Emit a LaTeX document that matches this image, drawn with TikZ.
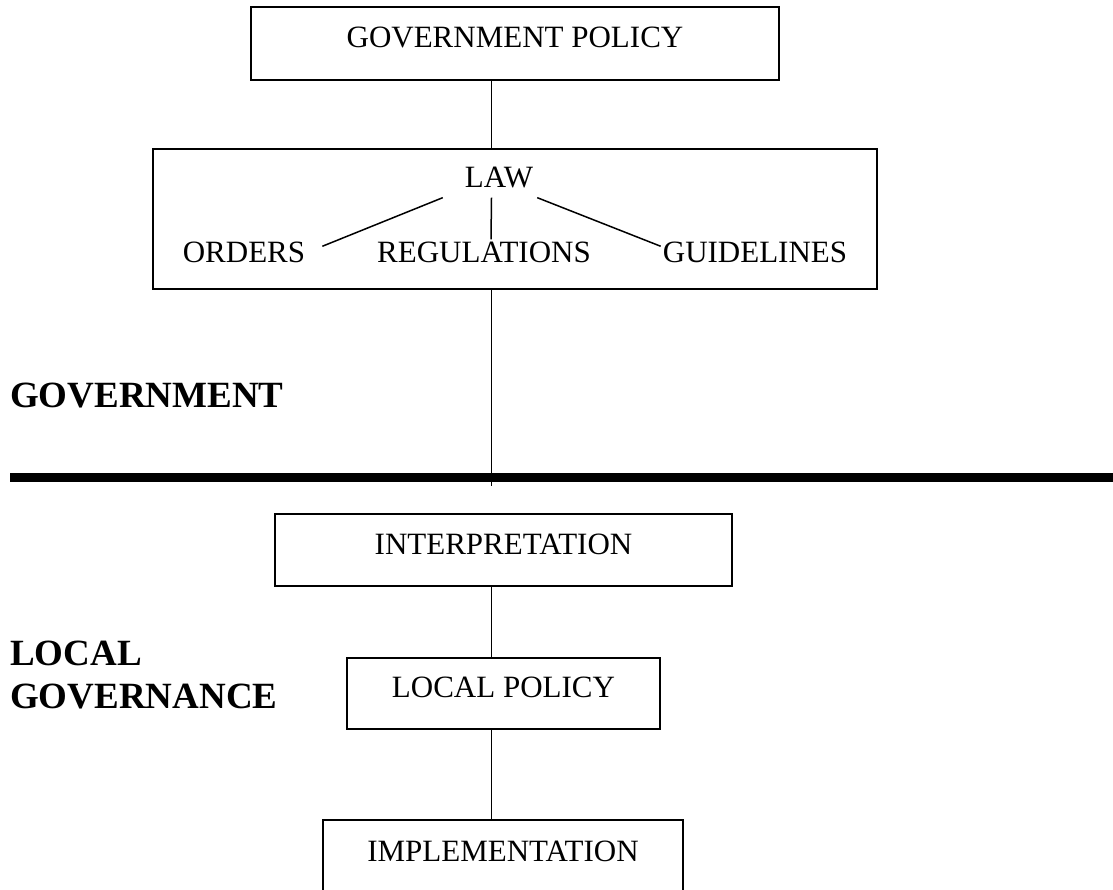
\documentclass[tikz,border=0pt]{standalone}
\usepackage{fontspec}
\setmainfont{Liberation Serif}
\tikzset{
	box/.style={draw, line width=1.8pt, inner sep=0pt, text depth=12pt, font=\fontsize{31}{37}\selectfont}, % the boxed steps
	word/.style={inner sep=0pt, anchor=base, font=\fontsize{31}{37}\selectfont}, % plain words inside the law box
	head/.style={inner sep=0pt, anchor=base west, font=\fontsize{37}{43}\selectfont\bfseries}, % the two side headings
	link/.style={line width=1.5pt}, % thin joining lines
	rule/.style={line width=9pt}, % the thick divide
}

\begin{document}
\begin{tikzpicture}[x=1pt,y=-1pt]
	\useasboundingbox (0,0) rectangle (1113,890);
	\coordinate (spine) at (491.5,0);
	\coordinate (cut) at (491.5,486);

	% government side
	\node[box, minimum width=528pt, minimum height=73pt] (gov) at (515,43.5) {GOVERNMENT POLICY};
	\node[box, minimum width=724pt, minimum height=140pt] (law) at (515,219) {};
	\node[word, inner sep=9pt] (lawtxt) at (499,188) {LAW};
	\node[word] (orders) at (244,263) {ORDERS};
	\node[word] (regul) at (484,263) {REGULATIONS};
	\node[word] (guide) at (755,263) {GUIDELINES};
	\node[head] (govt) at (10,407) {GOVERNMENT};

	\draw[rule] (10,477.5) -- (1113,477.5);

	% local side
	\node[box, minimum width=457pt, minimum height=72pt] (interp) at (503.5,550) {INTERPRETATION};
	\node[box, minimum width=313pt, minimum height=71pt] (local) at (503.5,693.5) {LOCAL POLICY};
	\node[box, minimum width=360pt, minimum height=74pt] (impl) at (503,857) {IMPLEMENTATION};
	\node[head] (loc) at (10,665) {LOCAL};
	\node[head] (gvn) at (10,708) {GOVERNANCE};

	\draw[link] (gov.south -| spine) -- (law.north -| spine)
		(law.south -| spine) -- (cut)
		(interp.south -| spine) -- (local.north -| spine)
		(local.south -| spine) -- (impl.north -| spine);
	\draw[link] ([xshift=-13pt]lawtxt.south west) -- ([xshift=17pt,yshift=-4pt]orders.north east)
		(lawtxt.south -| spine) -- ([xshift=7pt,yshift=3pt]regul.north)
		([xshift=-5pt]lawtxt.south east) -- ([xshift=-2pt,yshift=-4pt]guide.north west);
\end{tikzpicture}
\end{document}
